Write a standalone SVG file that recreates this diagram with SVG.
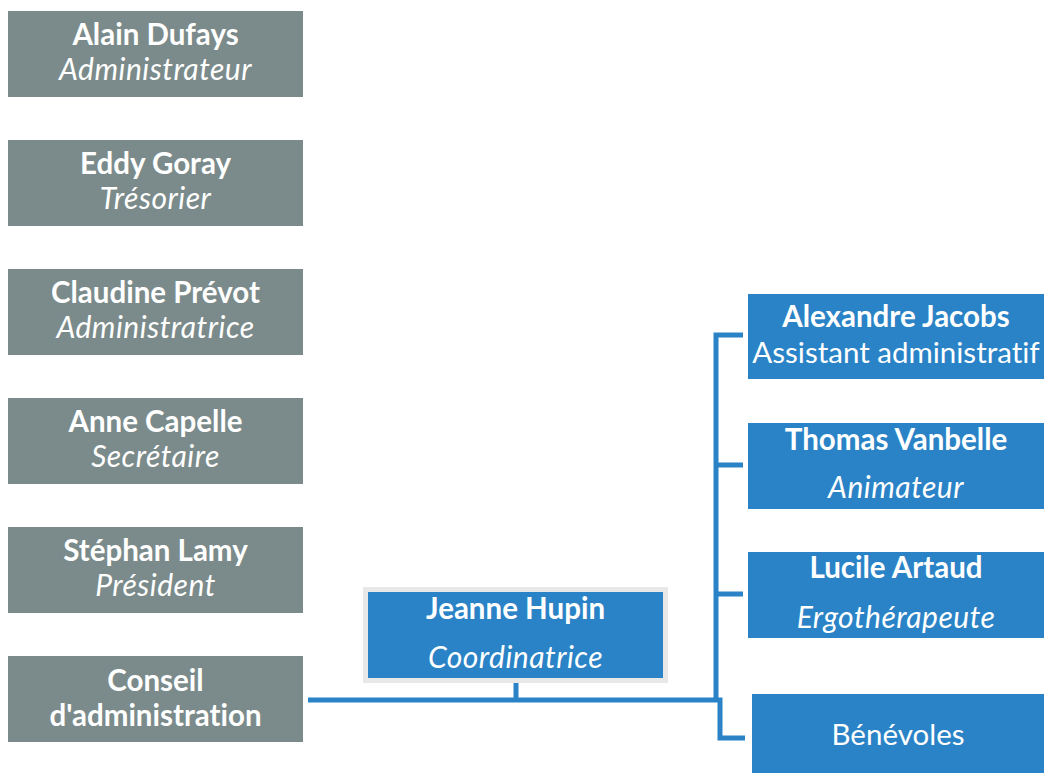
<svg xmlns="http://www.w3.org/2000/svg" width="1044" height="773" viewBox="0 0 1044 773">
<style>
.g{fill:#7b8b8b}
.b{fill:#2a83c6}
text{font-family:Lato,"Open Sans","Liberation Sans",sans-serif;fill:#fff;text-anchor:middle;font-size:29.5px;font-variant-ligatures:none;font-feature-settings:"liga" 0}
.t{font-weight:bold}
.i{font-style:italic;font-size:30px;letter-spacing:0.5px}
.c{fill:none;stroke:#2a83c6;stroke-width:5}
</style>
<rect width="1044" height="773" fill="#fff"/>
<g id="alain"><rect class="g" x="8" y="11" width="295" height="86"/><text class="t" x="155.5" y="45">Alain Dufays</text><text class="i" x="155.5" y="80">Administrateur</text></g>
<g id="eddy"><rect class="g" x="8" y="140" width="295" height="86"/><text class="t" x="155.5" y="174">Eddy Goray</text><text class="i" x="155.5" y="209">Trésorier</text></g>
<g id="claudine"><rect class="g" x="8" y="269" width="295" height="86"/><text class="t" x="155.5" y="303">Claudine Prévot</text><text class="i" x="155.5" y="338">Administratrice</text></g>
<g id="anne"><rect class="g" x="8" y="398" width="295" height="86"/><text class="t" x="155.5" y="432">Anne Capelle</text><text class="i" x="155.5" y="467">Secrétaire</text></g>
<g id="stephan"><rect class="g" x="8" y="527" width="295" height="86"/><text class="t" x="155.5" y="561">Stéphan Lamy</text><text class="i" x="155.5" y="596">Président</text></g>
<g id="conseil"><rect class="g" x="8" y="656" width="295" height="86"/><text class="t" x="155.5" y="691">Conseil</text><text class="t" x="155.5" y="726">d'administration</text></g>
<g id="connectors">
<path class="c" d="M308 700H716M516 683V700M716 700V335H743M716 465H743M716 594H743M716 700H720V738H745"/>
</g>
<g id="jeanne"><rect x="365.5" y="589.5" width="300" height="91" fill="#2a83c6" stroke="#e8e8e8" stroke-width="5"/><text class="t" x="515.5" y="619">Jeanne Hupin</text><text class="i" x="515.5" y="668">Coordinatrice</text></g>
<g id="alexandre"><rect class="b" x="748" y="294" width="296" height="85"/><text class="t" x="896" y="327">Alexandre Jacobs</text><text x="896" y="363">Assistant administratif</text></g>
<g id="thomas"><rect class="b" x="748" y="423" width="296" height="86"/><text class="t" x="896" y="450">Thomas Vanbelle</text><text class="i" x="896" y="498">Animateur</text></g>
<g id="lucile"><rect class="b" x="748" y="552" width="296" height="86"/><text class="t" x="896" y="578">Lucile Artaud</text><text class="i" x="896" y="628">Ergothérapeute</text></g>
<g id="benevoles"><rect class="b" x="752" y="694" width="292" height="79"/><text x="898" y="745">Bénévoles</text></g>
</svg>
